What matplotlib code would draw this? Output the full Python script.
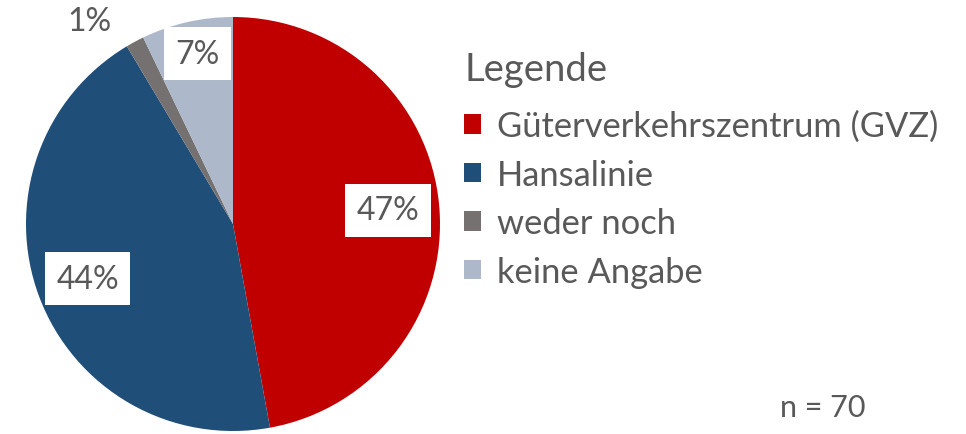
import numpy as np
import matplotlib
matplotlib.use('Agg')
import matplotlib.pyplot as plt
from matplotlib.patches import Patch

plt.rcParams['font.family'] = ['Lato', 'DejaVu Sans']

# Daten
categories = ['Güterverkehrszentrum (GVZ)', 'Hansalinie', 'weder noch', 'keine Angabe']
counts = [33, 31, 1, 5]
pct_labels = ['47%', '44%', '1%', '7%']
colors = ['#C00000', '#1F4E79', '#767171', '#ADB9CA']
n_total = 70

TXT = '#595959'

fig = plt.figure(figsize=(9.66, 4.35), dpi=100)
ax = fig.add_axes([26 / 966, 3 / 435, 414 / 966, 414 / 435])

wedges, _ = ax.pie(counts, colors=colors, startangle=90, counterclock=False,
                   radius=1.0, wedgeprops=dict(linewidth=0))
ax.set_xlim(-1, 1)
ax.set_ylim(-1, 1)
ax.set_aspect('equal')

# Beschriftungen (Abstand, Winkelversatz je Segment)
dist = [0.75, 0.75, 1.2, 0.84]
ang_off = [0, 0, 7, -1]
boxed = [True, True, False, True]
for w, lab, d, da, b in zip(wedges, pct_labels, dist, ang_off, boxed):
    mid = np.deg2rad((w.theta1 + w.theta2) / 2 + da)
    x, y = d * np.cos(mid), d * np.sin(mid)
    kw = dict(ha='center', va='center', fontsize=23, color=TXT)
    if b:
        kw['bbox'] = dict(boxstyle='square,pad=0.36', fc='white', ec='none')
    ax.text(x, y, lab, **kw)

fig.text(465 / 966, 1 - 70 / 435, 'Legende', fontsize=27.5, color=TXT,
         ha='left', va='center')

handles = [Patch(facecolor=c, edgecolor='none') for c in colors]
leg = fig.legend(handles, categories, loc='upper left',
                 bbox_to_anchor=(464 / 966, 1 - 111 / 435), frameon=False,
                 fontsize=24.8, borderpad=0,
                 handlelength=0.5, handleheight=0.5, handletextpad=0.45,
                 labelspacing=0.48, borderaxespad=0)
for t in leg.get_texts():
    t.set_color(TXT)

fig.text(780 / 966, 1 - 408 / 435, f'n = {n_total}', fontsize=22, color=TXT,
         ha='left', va='center')

fig.savefig('out.png', dpi=100)
